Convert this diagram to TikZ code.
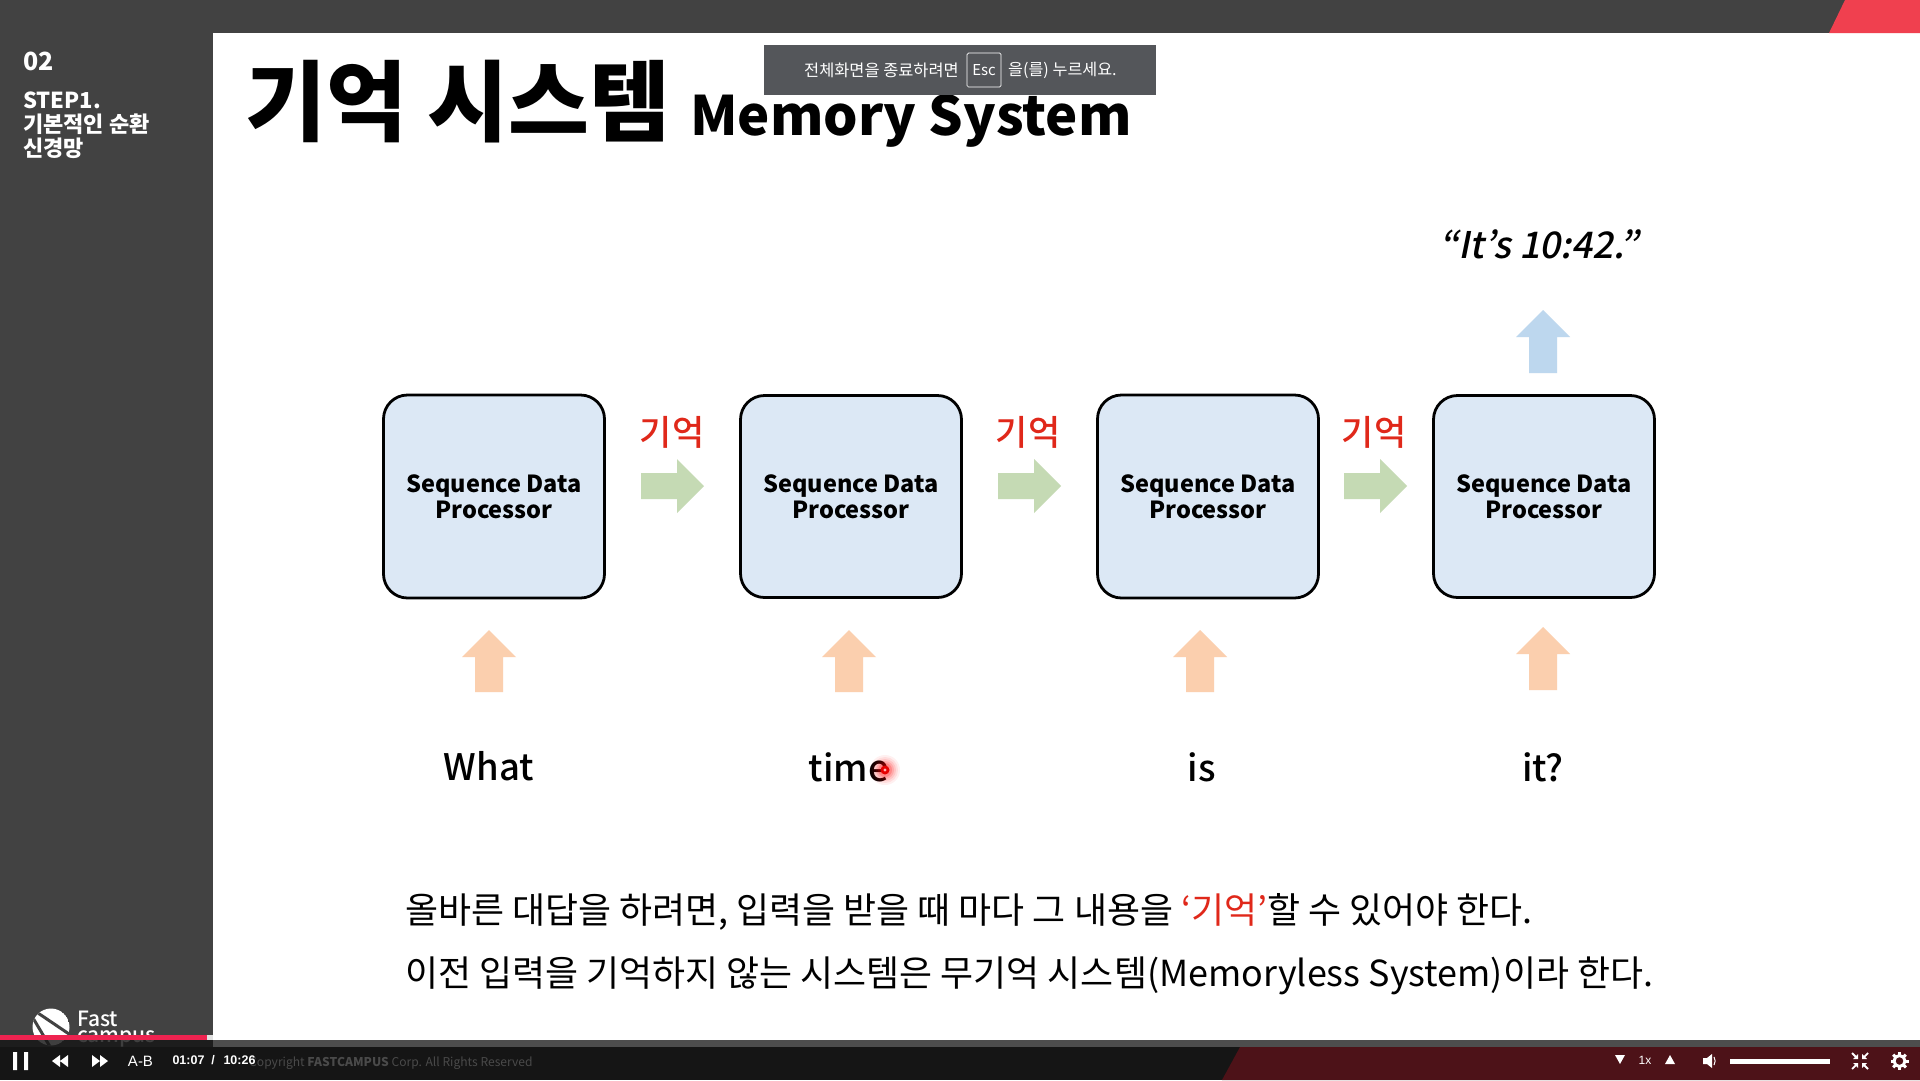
\documentclass[tikz,border=0pt]{standalone}
\usepackage{fontspec}
\setmainfont{Noto Sans CJK KR}
\newfontfamily\uifont{Liberation Sans}
\newfontfamily\medfont{Noto Sans CJK KR Medium}
\newfontfamily\slantfont[FakeSlant=0.2]{Noto Sans CJK KR Medium}
\newcommand{\fsz}[1]{\fontsize{#1}{#1}\selectfont}
\definecolor{sidegrey}{HTML}{424242}
\definecolor{barblack}{HTML}{151515}
\definecolor{bandgrey}{HTML}{4D4D4D}
\definecolor{maroon}{HTML}{4D1218}
\definecolor{topred}{HTML}{F0404F}
\definecolor{progred}{HTML}{EE2350}
\definecolor{toast}{HTML}{54565A}
\definecolor{boxblue}{HTML}{DCE8F5}
\definecolor{memred}{HTML}{E0281A}
\definecolor{arrgreen}{HTML}{C5DAB4}
\definecolor{arrorange}{HTML}{FBCFAE}
\definecolor{arrblue}{HTML}{BDD7EE}
\definecolor{copygrey}{HTML}{4A4A4A}
\newcommand{\rightarr}[3]{\fill[#3] (#1,#2-13) -- (#1+36,#2-13) -- (#1+36,#2-27) -- (#1+63,#2) -- (#1+36,#2+27) -- (#1+36,#2+13) -- (#1,#2+13) -- cycle;}
\newcommand{\uparr}[4]{\fill[#4] (#1-14,#3) -- (#1-14,#2+27) -- (#1-27,#2+27) -- (#1,#2) -- (#1+27,#2+27) -- (#1+14,#2+27) -- (#1+14,#3) -- cycle;}
\tikzset{
  procbox/.style={draw=black,line width=2.8pt,fill=boxblue,rounded corners=24pt,minimum width=221pt,minimum height=203pt,inner sep=0pt,align=center,font=\fsz{23.5}\bfseries},
  memlabel/.style={text=memred,font=\medfont\fsz{35},inner sep=0pt},
  wordlabel/.style={text=black,font=\medfont\fsz{36.5},inner sep=0pt},
  bodyline/.style={text=black,font=\fsz{35.9},anchor=west,inner sep=0pt},
  sidetext/.style={text=white,anchor=west,inner sep=0pt,font=\fsz{22}\bfseries},
  uitext/.style={text=white,inner sep=0pt,font=\uifont\fsz{13}},
}
\begin{document}
\begin{tikzpicture}[x=1pt,y=-1pt]
\useasboundingbox (0,0) rectangle (1920,1080);
\fill[white] (0,0) rectangle (1920,1080);
% frame
\fill[sidegrey] (0,0) rectangle (1920,33);
\fill[sidegrey] (0,0) rectangle (213,1047);
\fill[topred] (1829,33) -- (1845,0) -- (1920,0) -- (1920,33) -- cycle;
% sidebar
\node[sidetext,font=\fsz{25}\bfseries] (secnum) at (23,61) {02};
\node[sidetext] (sec1) at (23,100) {STEP1.};
\node[sidetext] (sec2) at (23,124) {기본적인 순환};
\node[sidetext] (sec3) at (23,148) {신경망};
% logo
\begin{scope}
\clip (51,1027) circle (18.5);
\fill[white] (51,1027) circle (18.5);
\draw[sidegrey,line width=3pt] (35,1011) -- (72,1036);
\draw[sidegrey,line width=3pt] (33,1018) -- (52,1050);
\end{scope}
\node[text=white,font=\medfont\fsz{21},anchor=west,inner sep=0pt] (logoa) at (77,1019) {Fast};
\node[text=white,font=\medfont\fsz{21},anchor=west,inner sep=0pt] (logob) at (77,1039) {campus};
% title
\node[anchor=base west,inner sep=0pt,font=\fsz{88}\bfseries] (titlek) at (245,134) {기억 시스템};
\node[anchor=base west,inner sep=0pt,font=\fsz{54.3}\bfseries] (titlee) at (690,135) {Memory System};
% toast
\fill[toast] (764,45) rectangle (1156,95);
\node[text=white,font=\fsz{16.4},anchor=west,inner sep=0pt] (toasta) at (804,70) {전체화면을 종료하려면};
\node[draw=white,line width=.7pt,rounded corners=1.5pt,minimum width=34pt,minimum height=34pt,inner sep=0pt,text=white,font=\fsz{15}] (esc) at (984,70) {Esc};
\node[text=white,font=\fsz{16.2},anchor=west,inner sep=0pt] (toastb) at (1008,70) {을(를) 누르세요.};
% quote
\node[inner sep=0pt,font=\slantfont\fsz{36.7}] (quote) at (1539,244) {“It’s 10:42.”};
% boxes
\node[procbox] (p1) at (494,496.5) {Sequence Data\\[3pt]Processor};
\node[procbox,minimum height=202pt] (p2) at (851,496.5) {Sequence Data\\[3pt]Processor};
\node[procbox] (p3) at (1208,496.5) {Sequence Data\\[3pt]Processor};
\node[procbox,minimum height=202pt] (p4) at (1544,496.5) {Sequence Data\\[3pt]Processor};
% memory
\node[memlabel] (m1) at (672,432) {기억};
\node[memlabel] (m2) at (1028,432) {기억};
\node[memlabel] (m3) at (1374,432) {기억};
\rightarr{641}{486}{arrgreen}
\rightarr{998}{486}{arrgreen}
\rightarr{1344}{486}{arrgreen}
% up arrows
\uparr{489}{630}{692}{arrorange}
\uparr{849}{630}{692}{arrorange}
\uparr{1200}{630}{692}{arrorange}
\uparr{1543}{627}{690}{arrorange}
\uparr{1543}{310}{373}{arrblue}
% words
\node[wordlabel] (w1) at (489,766) {What};
\node[wordlabel] (w2) at (849,767) {time};
\node[wordlabel] (w3) at (1202,767) {is};
\node[wordlabel] (w4) at (1543,767) {it?};
% cursor
\foreach \r/\o in {15/.06,13/.08,11/.1,9/.14,7/.2}{\fill[red,opacity=\o] (885,770) circle (\r);}
\fill[red!90!black] (885,770) circle (4.5);
\fill[white!70!red] (885,770) circle (1.6);
% body
\node[bodyline] (l1) at (405,912) {올바른 대답을 하려면, 입력을 받을 때 마다 그 내용을 \textcolor{memred}{‘기억’}할 수 있어야 한다.};
\node[bodyline] (l2) at (405,976) {이전 입력을 기억하지 않는 시스템은 무기억 시스템(Memoryless System)이라 한다.};
% player
\fill[bandgrey] (213,1040) rectangle (1920,1047);
\fill[barblack,opacity=.82] (0,1040) rectangle (213,1047);
\fill[barblack] (0,1047) rectangle (1920,1080);
\fill[maroon] (1222,1080) -- (1240,1047) -- (1920,1047) -- (1920,1080) -- cycle;
\fill[progred] (0,1035) rectangle (207,1040);
\fill[black!12] (207,1035) rectangle (213,1040);
\node[text=copygrey,font=\fsz{12.1},anchor=west,inner sep=0pt] (copy) at (249,1063) {Copyright \textbf{FASTCAMPUS} Corp. All Rights Reserved};
\fill[white] (13,1052) rectangle (17,1070) (24,1052) rectangle (28,1070);
\fill[white] (60,1055) -- (60,1067) -- (52,1061) -- cycle (68,1055) -- (68,1067) -- (60,1061) -- cycle;
\fill[white] (92,1055) -- (92,1067) -- (100,1061) -- cycle (100,1055) -- (100,1067) -- (108,1061) -- cycle;
\node[uitext,font=\uifont\fsz{15}] (ab) at (140.5,1061) {A-B};
\node[uitext,font=\uifont\fsz{12.5}\bfseries] (t1) at (188.5,1060) {01:07};
\node[uitext,font=\uifont\fsz{12.5}\bfseries] (tsl) at (213,1060) {/};
\node[uitext,font=\uifont\fsz{12.5}\bfseries] (t2) at (239.5,1060) {10:26};
\fill[white] (1615,1055) -- (1625,1055) -- (1620,1064) -- cycle;
\node[uitext,font=\uifont\fsz{12}] (rate) at (1645,1060) {1x};
\fill[white] (1665,1064) -- (1675,1064) -- (1670,1055) -- cycle;
\fill[white] (1703,1058) -- (1707,1058) -- (1712,1054) -- (1712,1068) -- (1707,1064) -- (1703,1064) -- cycle;
\draw[white,line width=1pt] (1714,1057) to[bend left=30] (1714,1065);
\fill[white] (1730,1058.5) rectangle (1830,1063.5);
% fullscreen icon
\foreach \sx/\sy in {1/1,-1/1,1/-1,-1/-1}{
  \fill[white] (1860+\sx*2,1061+\sy*2) -- (1860+\sx*7,1061+\sy*2) -- (1860+\sx*2,1061+\sy*7) -- cycle;
  \draw[white,line width=1.8pt] (1860+\sx*4,1061+\sy*4) -- (1860+\sx*8,1061+\sy*8);
}
% gear
\draw[white,line width=3pt] (1899.5,1061) circle (5.5);
\foreach \a in {0,45,...,315}{\draw[white,line width=3pt] (1899.5,1061) ++(\a:6) -- ++(\a:3);}
\end{tikzpicture}
\end{document}
